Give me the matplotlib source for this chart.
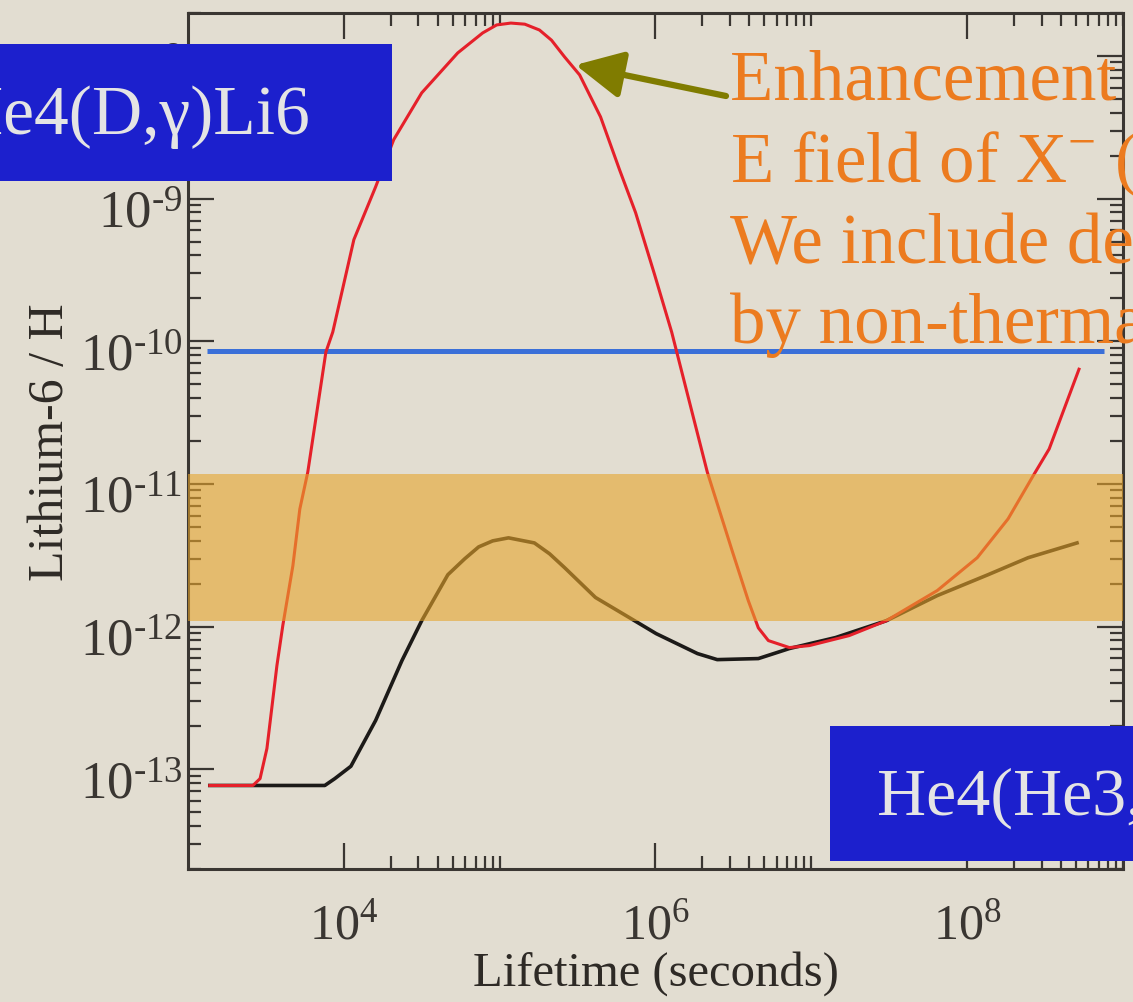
import matplotlib
matplotlib.use("Agg")
import matplotlib.pyplot as plt
from matplotlib.ticker import FixedLocator, LogLocator, NullFormatter, FuncFormatter
from matplotlib.patches import Rectangle
from matplotlib.transforms import ScaledTranslation
import numpy as np

# Li-6 abundance versus lifetime of the decaying relic
lifetime_catalyzed = [1.38e3, 2.61e3, 2.90e3, 3.21e3, 3.72e3, 4.06e3, 4.71e3, 5.22e3, 5.87e3,
                      7.67e3, 8.49e3, 1.16e4, 1.60e4, 2.09e4, 3.16e4, 5.38e4, 7.78e4, 9.57e4,
                      1.18e5, 1.45e5, 1.80e5, 2.15e5, 2.61e5, 3.26e5, 4.44e5, 5.87e5, 7.45e5,
                      9.86e5, 1.27e6, 2.15e6, 3.12e6, 3.94e6, 4.57e6, 5.30e6, 7.23e6, 9.70e6,
                      1.75e7, 3.03e7, 6.43e7, 1.16e8, 1.83e8, 2.65e8, 3.36e8, 5.22e8]
li6_catalyzed = [7.7e-14, 7.7e-14, 8.6e-14, 1.40e-13, 5.33e-13, 1.02e-12, 2.67e-12, 6.68e-12,
                 1.21e-11, 8.4e-11, 1.16e-10, 5.16e-10, 1.21e-9, 2.59e-9, 5.51e-9, 1.05e-8,
                 1.45e-8, 1.65e-8, 1.70e-8, 1.67e-8, 1.52e-8, 1.29e-8, 9.84e-9, 7.36e-9,
                 3.74e-9, 1.60e-9, 7.98e-10, 2.94e-10, 1.16e-10, 1.21e-11, 3.34e-12, 1.52e-12,
                 9.8e-13, 7.98e-13, 7.13e-13, 7.36e-13, 8.65e-13, 1.10e-12, 1.79e-12, 3.04e-12,
                 5.69e-12, 1.14e-11, 1.76e-11, 6.37e-11]

lifetime_standard = [1.38e3, 7.55e3, 8.75e3, 1.11e4, 1.60e4, 2.36e4, 3.16e4, 4.65e4, 5.97e4,
                     7.33e4, 9.02e4, 1.14e5, 1.67e5, 2.09e5, 2.61e5, 4.12e5, 7.55e5, 1.01e6,
                     1.86e6, 2.49e6, 4.57e6, 7.23e6, 1.43e7, 3.03e7, 6.43e7, 1.36e8, 2.46e8,
                     5.07e8]
li6_standard = [7.7e-14, 7.7e-14, 8.6e-14, 1.05e-13, 2.20e-13, 5.78e-13, 1.10e-12, 2.31e-12,
                2.99e-12, 3.62e-12, 3.99e-12, 4.19e-12, 3.86e-12, 3.24e-12, 2.59e-12, 1.60e-12,
                1.08e-12, 8.93e-13, 6.47e-13, 5.87e-13, 5.97e-13, 7.02e-13, 8.38e-13, 1.10e-12,
                1.65e-12, 2.31e-12, 3.04e-12, 3.86e-12]

# upper bound (blue line) and observed band
bound_level = 8.5e-11
bound_range = [1.32e3, 7.6e8]
observed_band = [1.1e-12, 1.17e-11]

x_major_ticks = [1e4, 1e6, 1e8]
x_minor_ticks = [k * 10.0**e for e in (4, 6, 8) for k in range(2, 11)]

arrow_tip = (3.07e5, 8.65e-9)

box_left_text = "He4(D,\u03b3)Li6"
box_right_text = "He4(He3,p)Li6"
note_lines = ["Enhancement of rate by",
              r"E field of X$^{-}$ (catalysis)",
              "We include destruction",
              "by non-thermal particles"]

W, H = 1133, 1003
bg = "#e2ddd1"
ink = "#3a3632"

plt.rcParams["font.family"] = "Liberation Serif"
plt.rcParams["mathtext.fontset"] = "custom"
plt.rcParams["mathtext.rm"] = "Liberation Serif"
plt.rcParams["mathtext.it"] = "Liberation Serif:italic"
plt.rcParams["mathtext.bf"] = "Liberation Serif:bold"


def pow10(v, pos):
    n = int(round(np.log10(v)))
    if n < 0:
        return r"$10^{\text{-}%d}$" % (-n)
    return r"$10^{%d}$" % n


fig = plt.figure(figsize=(W / 100, H / 100), dpi=100, facecolor=bg)
ax = fig.add_axes([188 / W, 1 - 870 / H, 935 / W, 856 / H], facecolor=bg)

ax.set_xscale("log")
ax.set_yscale("log")
ax.set_xlim(1e3, 1e9)
ax.set_ylim(2e-14, 2e-8)

ax.hlines(bound_level, bound_range[0], bound_range[1], color="#3a6fd8", lw=3.6, zorder=2)
ax.plot(lifetime_standard, li6_standard, color="#1c1a18", lw=2.6, zorder=3)
ax.plot(lifetime_catalyzed, li6_catalyzed, color="#e5202a", lw=2.2, zorder=4)
ax.axhspan(observed_band[0], observed_band[1], color="#e7a52c", alpha=0.6, lw=0, zorder=5)

ax.xaxis.set_major_locator(FixedLocator(x_major_ticks))
ax.xaxis.set_minor_locator(FixedLocator(x_minor_ticks))
ax.xaxis.set_major_formatter(FuncFormatter(pow10))
ax.xaxis.set_minor_formatter(NullFormatter())
ax.yaxis.set_major_locator(LogLocator(base=10, numticks=20))
ax.yaxis.set_minor_locator(LogLocator(base=10, subs=range(2, 10), numticks=20))
ax.yaxis.set_major_formatter(FuncFormatter(pow10))
ax.yaxis.set_minor_formatter(NullFormatter())

ax.tick_params(which="both", direction="in", top=True, right=True, color=ink, width=1.6)
ax.tick_params(which="major", length=19)
ax.tick_params(which="minor", length=9.5)
ax.tick_params(axis="x", which="major", pad=24, labelsize=36, labelcolor="#3a3632")
ax.tick_params(axis="y", which="major", pad=4, labelsize=38, labelcolor="#3a3632")
for s in ax.spines.values():
    s.set_color(ink)
    s.set_linewidth(2.2)

# digits sit a little below the tick, exponent above it
shift_down = ScaledTranslation(0, -7 / 72, fig.dpi_scale_trans)
for lab in ax.get_yticklabels():
    lab.set_transform(lab.get_transform() + shift_down)

ax.set_xlabel("Lifetime (seconds)", fontsize=35, color="#2e2a26", labelpad=1)
ax.set_ylabel("Lithium-6 / H", fontsize=36, color="#2e2a26", labelpad=4)

ax.annotate("", xy=arrow_tip, xycoords="data",
            xytext=(726, H - 97), textcoords="figure pixels",
            arrowprops=dict(arrowstyle="-|>,head_length=0.48,head_width=0.24",
                            mutation_scale=60, lw=4.5, color="#807c00",
                            shrinkA=0, shrinkB=0),
            zorder=6)

# slide overlay: reaction labels and explanatory note, in pixel units
ov = fig.add_axes([0, 0, 1, 1])
ov.set_xlim(0, W)
ov.set_ylim(H, 0)
ov.axis("off")
ov.patch.set_alpha(0)

ov.add_patch(Rectangle((-5, 45), 397, 137, facecolor="#1c20cd", edgecolor="none"))
ov.text(310, 134, box_left_text, ha="right", va="baseline", fontsize=50, color="#e4e4e4")
ov.add_patch(Rectangle((830, 727), 330, 135, facecolor="#1c20cd", edgecolor="none"))
ov.text(877, 815, box_right_text, ha="left", va="baseline", fontsize=49, color="#e4e4e4")

for txt, base in zip(note_lines, [100, 182, 263, 343]):
    ov.text(730, base, txt, ha="left", va="baseline", fontsize=51, color="#ec7b1f", clip_on=True)

fig.savefig("out.png", dpi=100, facecolor=bg)
